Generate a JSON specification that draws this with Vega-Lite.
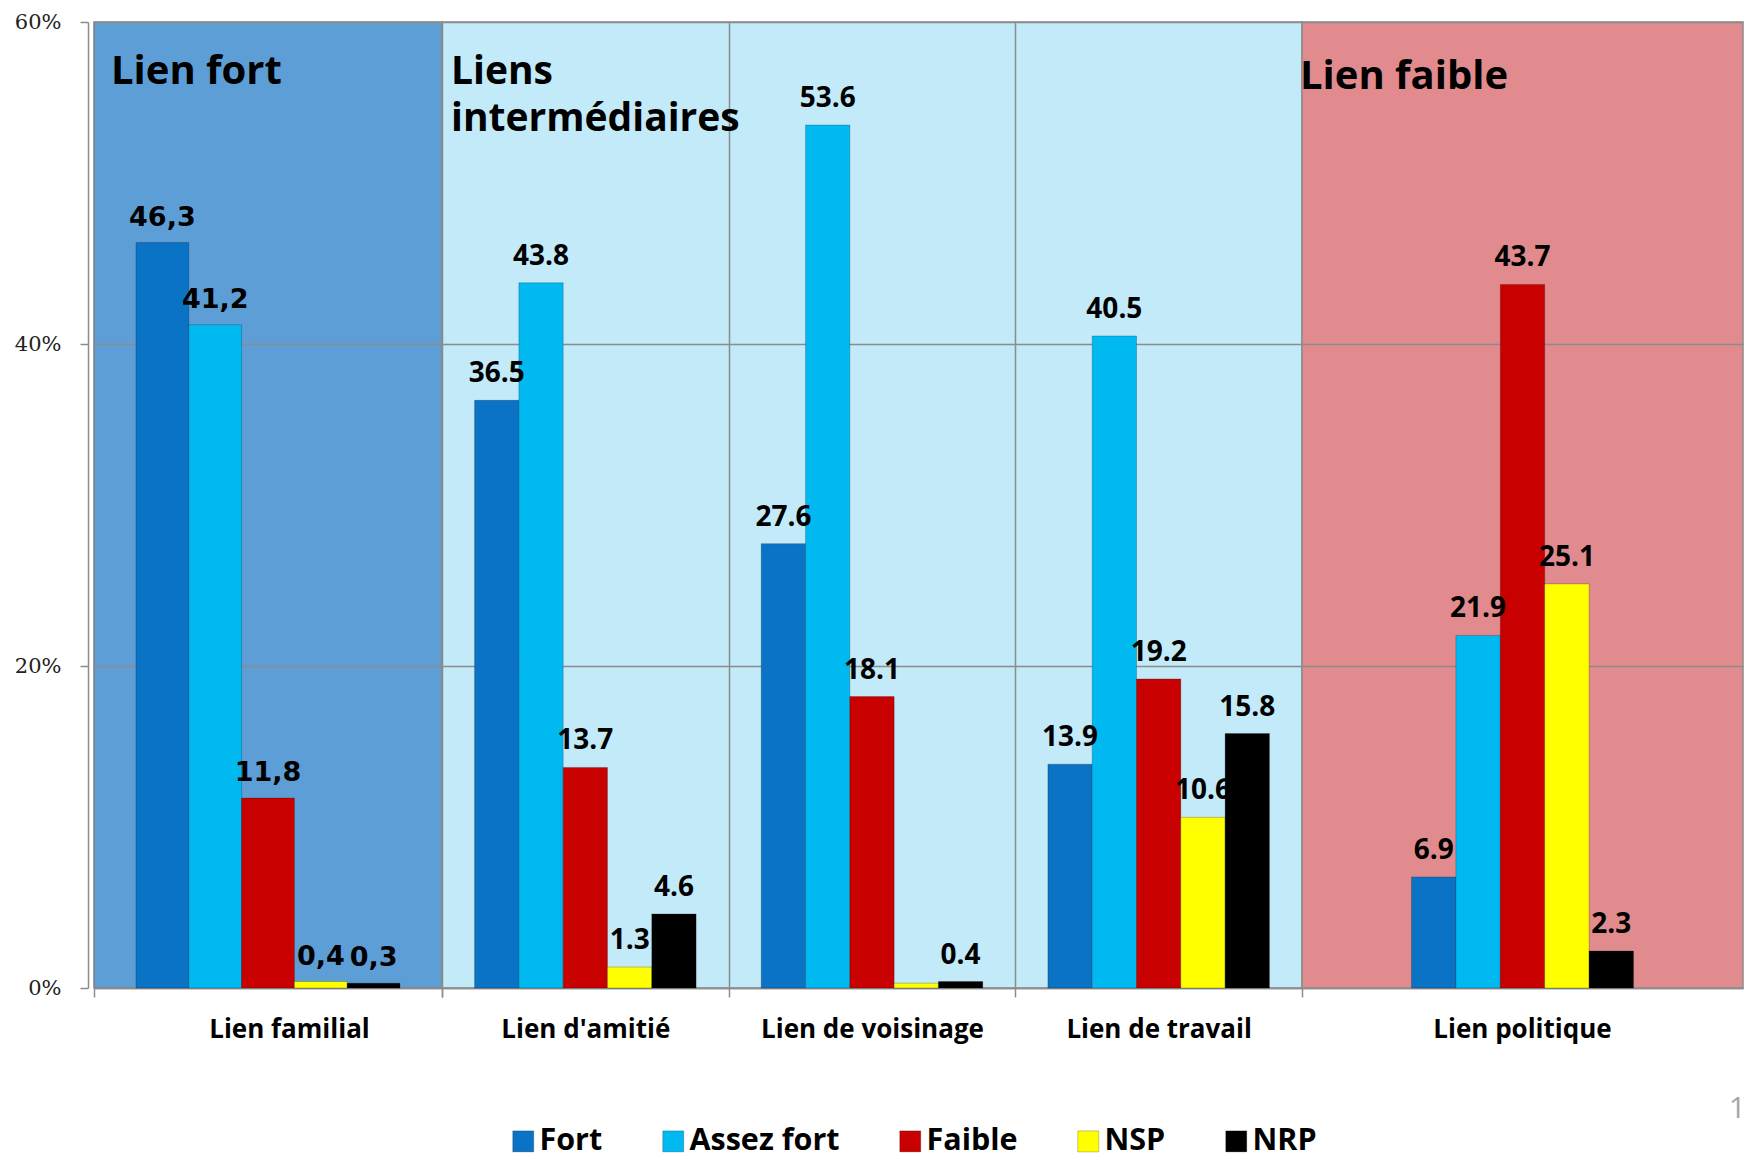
{
  "$schema": "https://vega.github.io/schema/vega-lite/v6.json",
  "background": "white",
  "padding": {"left": 13, "top": 10, "right": 6, "bottom": 0},
  "datasets": {
    "bars": [
      {"category": "Lien familial", "series": "Fort", "value": 46.3, "label": "46,3"},
      {"category": "Lien familial", "series": "Assez fort", "value": 41.2, "label": "41,2"},
      {"category": "Lien familial", "series": "Faible", "value": 11.8, "label": "11,8"},
      {"category": "Lien familial", "series": "NSP", "value": 0.4, "label": "0,4"},
      {"category": "Lien familial", "series": "NRP", "value": 0.3, "label": "0,3"},
      {"category": "Lien d'amitié", "series": "Fort", "value": 36.5, "label": "36.5"},
      {"category": "Lien d'amitié", "series": "Assez fort", "value": 43.8, "label": "43.8"},
      {"category": "Lien d'amitié", "series": "Faible", "value": 13.7, "label": "13.7"},
      {"category": "Lien d'amitié", "series": "NSP", "value": 1.3, "label": "1.3"},
      {"category": "Lien d'amitié", "series": "NRP", "value": 4.6, "label": "4.6"},
      {"category": "Lien de voisinage", "series": "Fort", "value": 27.6, "label": "27.6"},
      {"category": "Lien de voisinage", "series": "Assez fort", "value": 53.6, "label": "53.6"},
      {"category": "Lien de voisinage", "series": "Faible", "value": 18.1, "label": "18.1"},
      {"category": "Lien de voisinage", "series": "NSP", "value": 0.3, "label": ""},
      {"category": "Lien de voisinage", "series": "NRP", "value": 0.4, "label": "0.4"},
      {"category": "Lien de travail", "series": "Fort", "value": 13.9, "label": "13.9"},
      {"category": "Lien de travail", "series": "Assez fort", "value": 40.5, "label": "40.5"},
      {"category": "Lien de travail", "series": "Faible", "value": 19.2, "label": "19.2"},
      {"category": "Lien de travail", "series": "NSP", "value": 10.6, "label": "10.6"},
      {"category": "Lien de travail", "series": "NRP", "value": 15.8, "label": "15.8"},
      {"category": "Lien politique", "series": "Fort", "value": 6.9, "label": "6.9"},
      {"category": "Lien politique", "series": "Assez fort", "value": 21.9, "label": "21.9"},
      {"category": "Lien politique", "series": "Faible", "value": 43.7, "label": "43.7"},
      {"category": "Lien politique", "series": "NSP", "value": 25.1, "label": "25.1"},
      {"category": "Lien politique", "series": "NRP", "value": 2.3, "label": "2.3"}
    ]
  },
  "config": {
    "axis": {"gridColor": "#8c8c8c", "gridWidth": 1.5, "gridOpacity": 1, "domainColor": "#8c8c8c", "domainWidth": 1.5, "tickColor": "#8c8c8c", "tickWidth": 1.5, "labelLimit": 400},
    "bar": {"stroke": "#000000", "strokeOpacity": 0.22, "strokeWidth": 1}
  },
  "spacing": 0,
  "bounds": "flush",
  "resolve": {"scale": {"color": "shared", "xOffset": "independent", "x": "independent"}},
  "hconcat": [
    {
      "width": 348,
      "height": 966,
      "view": {"fill": "#5E9ED6", "stroke": "#7f7f7f", "strokeWidth": 1.5},
      "layer": [
        {
          "data": {"name": "bars"},
          "transform": [{"filter": {"field": "category", "equal": "Lien familial"}}],
          "mark": {"type": "bar"},
          "encoding": {
            "x": {"field": "category", "type": "nominal", "scale": {"domain": ["Lien familial"], "paddingInner": 0, "paddingOuter": 0},
              "axis": {"title": null, "labelAngle": 0, "labelFont": "Open Sans", "labelFontWeight": "bold", "labelFontSize": 26, "labelColor": "black", "labelPadding": 19, "labelDy": -3, "labelOffset": 21, "tickBand": "extent", "tickSize": 9, "grid": false, "domain": true}},
            "xOffset": {"field": "series", "type": "nominal", "scale": {"domain": ["Fort", "Assez fort", "Faible", "NSP", "NRP"], "paddingInner": 0, "paddingOuter": 0.795}},
            "y": {"field": "value", "type": "quantitative", "scale": {"domain": [0, 60], "nice": false},
              "axis": {"title": null, "values": [0, 20, 40, 60], "labelExpr": "datum.value + '%'", "offset": 6, "tickSize": 8, "labelPadding": 19, "labelFont": "DejaVu Serif", "labelFontSize": 21, "labelColor": "#222222", "grid": true}},
            "color": {"field": "series", "type": "nominal",
              "scale": {"domain": ["Fort", "Assez fort", "Faible", "NSP", "NRP"], "range": ["#0A73C6", "#00B9F0", "#C80000", "#FFFF00", "#000000"]},
              "legend": {"orient": "none", "legendX": 414, "legendY": 1104, "direction": "horizontal", "title": null, "symbolType": "square", "symbolSize": 441, "symbolStrokeWidth": 0, "labelFont": "Open Sans", "labelFontWeight": "bold", "labelFontSize": 30.5, "labelColor": "black", "labelOffset": 1, "columnPadding": 55, "padding": 0, "labelLimit": 400}}
          }
        },
        {
          "data": {"name": "bars"},
          "transform": [{"filter": {"field": "category", "equal": "Lien familial"}}],
          "mark": {"type": "text", "font": "DejaVu Sans", "fontWeight": "bold", "fontSize": 27, "baseline": "alphabetic", "dy": -17, "color": "black"},
          "encoding": {
            "x": {"field": "category", "type": "nominal"},
            "xOffset": {"field": "series", "type": "nominal"},
            "y": {"field": "value", "type": "quantitative"},
            "text": {"field": "label"}
          }
        },
        {
          "data": {"values": [{"category": "Lien familial", "title": "Lien fort"}]},
          "mark": {"type": "text", "font": "Open Sans", "fontWeight": "bold", "fontSize": 40, "align": "left", "baseline": "alphabetic", "dx": 17, "color": "black"},
          "encoding": {
            "x": {"field": "category", "type": "nominal", "bandPosition": 0},
            "y": {"datum": 56.15},
            "text": {"field": "title"}
          }
        }
      ]
    },
    {
      "width": 860,
      "height": 966,
      "view": {"fill": "#C2EAF9", "stroke": "#8c8c8c", "strokeWidth": 1.5},
      "layer": [
        {
          "data": {"name": "bars"},
          "transform": [{"filter": {"field": "category", "oneOf": ["Lien d'amitié", "Lien de voisinage", "Lien de travail"]}}],
          "mark": {"type": "bar"},
          "encoding": {
            "x": {"field": "category", "type": "nominal", "scale": {"domain": ["Lien d'amitié", "Lien de voisinage", "Lien de travail"], "paddingInner": 0, "paddingOuter": 0},
              "axis": {"title": null, "labelAngle": 0, "labelFont": "Open Sans", "labelFontWeight": "bold", "labelFontSize": 26, "labelColor": "black", "labelPadding": 19, "tickBand": "extent", "tickSize": 9, "grid": true, "domain": true}},
            "xOffset": {"field": "series", "type": "nominal", "scale": {"domain": ["Fort", "Assez fort", "Faible", "NSP", "NRP"], "paddingInner": 0, "paddingOuter": 0.735}},
            "y": {"field": "value", "type": "quantitative", "scale": {"domain": [0, 60], "nice": false},
              "axis": {"title": null, "values": [0, 20, 40, 60], "labels": false, "ticks": false, "domain": false, "grid": true}},
            "color": {"field": "series", "type": "nominal"}
          }
        },
        {
          "data": {"name": "bars"},
          "transform": [{"filter": {"field": "category", "oneOf": ["Lien d'amitié", "Lien de voisinage", "Lien de travail"]}}],
          "mark": {"type": "text", "font": "Open Sans", "fontWeight": "bold", "fontSize": 28, "baseline": "alphabetic", "dy": -18, "color": "black"},
          "encoding": {
            "x": {"field": "category", "type": "nominal"},
            "xOffset": {"field": "series", "type": "nominal"},
            "y": {"field": "value", "type": "quantitative"},
            "text": {"field": "label"}
          }
        },
        {
          "data": {"values": [{"category": "Lien d'amitié", "title": "Liens\nintermédiaires"}]},
          "mark": {"type": "text", "font": "Open Sans", "fontWeight": "bold", "fontSize": 39, "align": "left", "baseline": "alphabetic", "dx": 9, "lineBreak": "\n", "lineHeight": 47, "color": "black"},
          "encoding": {
            "x": {"field": "category", "type": "nominal", "bandPosition": 0},
            "y": {"datum": 56.15},
            "text": {"field": "title"}
          }
        }
      ]
    },
    {
      "width": 441,
      "height": 966,
      "view": {"fill": "#E18B8E", "stroke": "#8c8c8c", "strokeWidth": 1.5},
      "layer": [
        {
          "data": {"name": "bars"},
          "transform": [{"filter": {"field": "category", "equal": "Lien politique"}}],
          "mark": {"type": "bar"},
          "encoding": {
            "x": {"field": "category", "type": "nominal", "scale": {"domain": ["Lien politique"], "paddingInner": 0, "paddingOuter": 0.2095},
              "axis": {"title": null, "labelAngle": 0, "labelFont": "Open Sans", "labelFontWeight": "bold", "labelFontSize": 26, "labelColor": "black", "labelPadding": 28, "ticks": false, "grid": false, "domain": true}},
            "xOffset": {"field": "series", "type": "nominal", "scale": {"domain": ["Fort", "Assez fort", "Faible", "NSP", "NRP"], "paddingInner": 0, "paddingOuter": 1}},
            "y": {"field": "value", "type": "quantitative", "scale": {"domain": [0, 60], "nice": false},
              "axis": {"title": null, "values": [0, 20, 40, 60], "labels": false, "ticks": false, "domain": false, "grid": true}},
            "color": {"field": "series", "type": "nominal"}
          }
        },
        {
          "data": {"name": "bars"},
          "transform": [{"filter": {"field": "category", "equal": "Lien politique"}}],
          "mark": {"type": "text", "font": "Open Sans", "fontWeight": "bold", "fontSize": 28, "baseline": "alphabetic", "dy": -18, "color": "black"},
          "encoding": {
            "x": {"field": "category", "type": "nominal"},
            "xOffset": {"field": "series", "type": "nominal"},
            "y": {"field": "value", "type": "quantitative"},
            "text": {"field": "label"}
          }
        },
        {
          "data": {"values": [{"category": "Lien politique", "title": "Lien faible"}]},
          "mark": {"type": "text", "font": "Open Sans", "fontWeight": "bold", "fontSize": 40, "align": "left", "baseline": "alphabetic", "dx": -2, "color": "black"},
          "encoding": {
            "x": {"field": "category", "type": "nominal", "bandPosition": -0.2095},
            "y": {"datum": 55.84},
            "text": {"field": "title"}
          }
        },
        {
          "data": {"values": [{"category": "Lien politique", "page": "1"}]},
          "mark": {"type": "text", "font": "Open Sans", "fontSize": 30, "align": "right", "baseline": "alphabetic", "dx": 3, "color": "#a6a6a6"},
          "encoding": {
            "x": {"field": "category", "type": "nominal", "bandPosition": 1.2095},
            "y": {"datum": -8.1},
            "text": {"field": "page"}
          }
        }
      ]
    }
  ]
}
